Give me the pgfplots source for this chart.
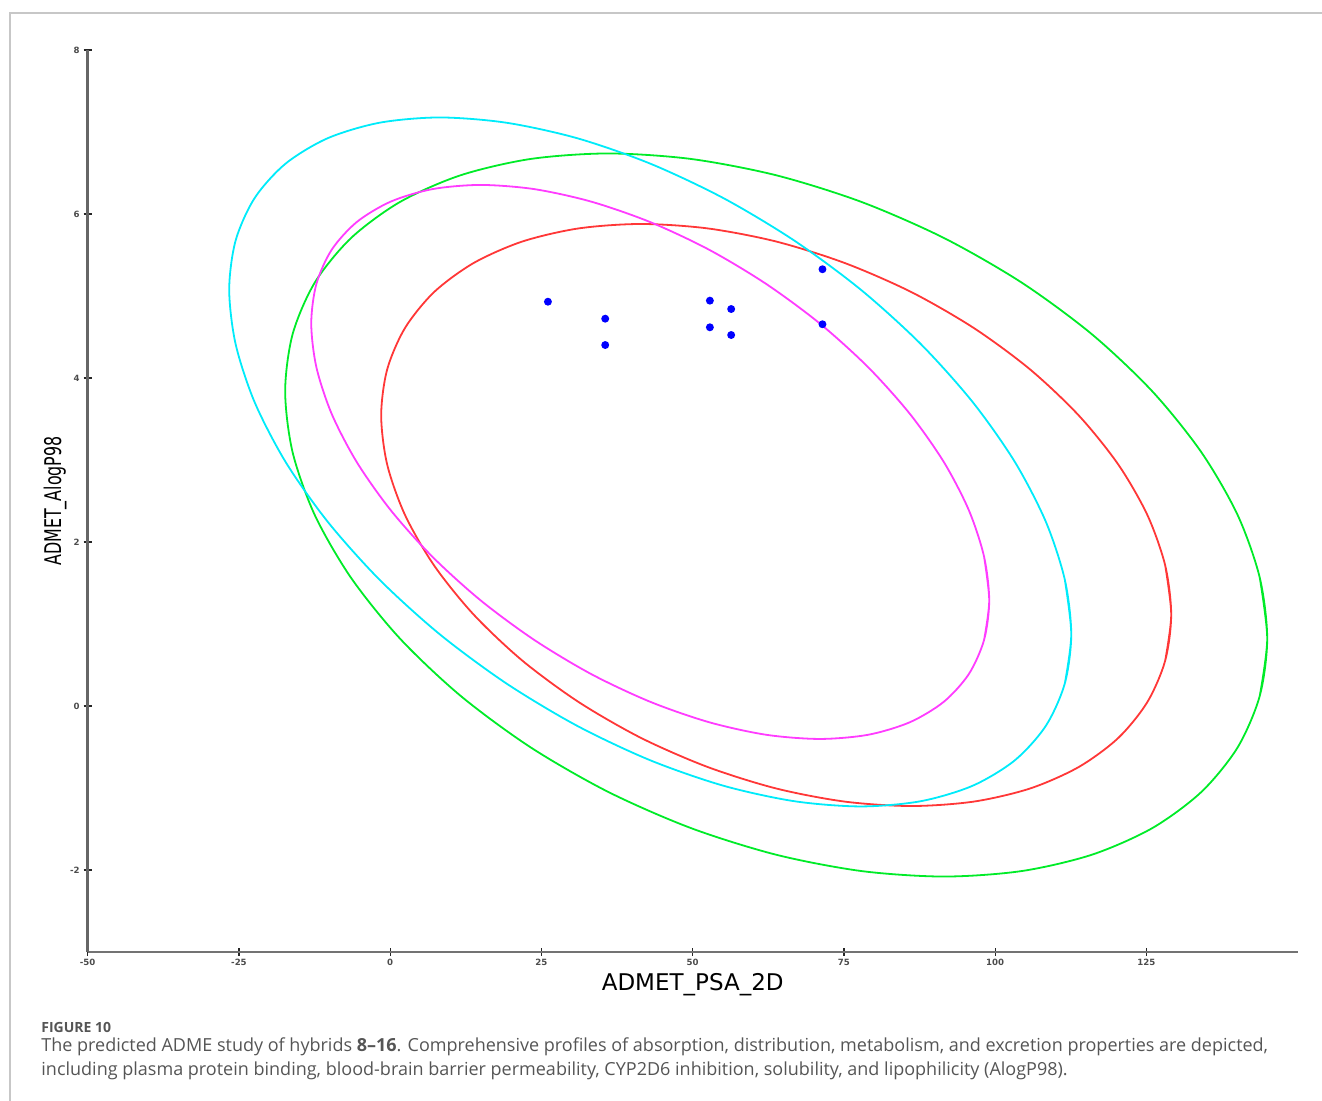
\documentclass[border=0pt]{standalone}
\usepackage{pgfplots}
\pgfplotsset{compat=1.18}
\usepackage{fontspec}
\setmainfont{Open Sans}
\newfontfamily\dvs{DejaVu Sans}
\definecolor{ccyan}{RGB}{0,235,250}
\definecolor{cgreen}{RGB}{0,235,40}
\definecolor{cmag}{RGB}{255,60,255}
\definecolor{cred}{RGB}{255,55,55}
\definecolor{capgray}{RGB}{85,85,85}
\begin{document}
\begin{tikzpicture}
\useasboundingbox (0pt,0pt) rectangle (661pt,550.5pt);
\draw[black!22, line width=0.6pt] (5pt,0pt) -- (5pt,544pt) -- (661pt,544pt);
\begin{axis}[
  at={(43.85pt,74.5pt)}, anchor=south west,
  scale only axis, width=605pt, height=451pt,
  xmin=-50, xmax=150, ymin=-3, ymax=8,
  axis x line*=bottom, axis y line*=left,
  x axis line style={-, black!55, line width=0.8pt},
  y axis line style={-, black!60, line width=1.2pt},
  xtick={-50,-25,0,25,50,75,100,125}, ytick={-2,0,2,4,6,8},
  tick align=center, major tick length=4pt,
  tick style={black!85, line width=0.6pt},
  ticklabel style={font=\dvs\bfseries\fontsize{4.3}{5}\selectfont, text=black!70},
  xticklabel style={yshift=1.8pt},
  yticklabel style={xshift=1.5pt},
  /pgf/number format/assume math mode=true,
  xlabel={\dvs\fontsize{11.5}{13}\selectfont ADMET\_PSA\_2D},
  ylabel={\dvs\fontsize{11.5}{13}\selectfont\scalebox{0.69}[1]{ADMET\_AlogP98}},
  xlabel style={at={(axis description cs:0.5,-0.0365)}, anchor=center},
  ylabel style={at={(axis description cs:-0.027,0.5)}, anchor=center},
  every axis plot/.append style={smooth, tension=0.5, line width=0.9pt},
]
\addplot[cgreen] coordinates {
(143.73,1.564) (144.96,0.821) (143.73,0.124) (140.07,-0.505) (134.08,-1.048) (125.97,-1.489) (115.97,-1.814) (104.38,-2.013) (91.56,-2.080) (77.89,-2.013) (63.80,-1.814) (49.71,-1.489) (36.04,-1.048) (23.22,-0.505) (11.63,0.124) (1.63,0.821) (-6.48,1.564) (-12.47,2.329) (-16.13,3.094) (-17.36,3.837) (-16.13,4.534) (-12.47,5.163) (-6.48,5.706) (1.63,6.147) (11.63,6.472) (23.22,6.671) (36.04,6.738) (49.71,6.671) (63.80,6.472) (77.89,6.147) (91.56,5.706) (104.38,5.163) (115.97,4.534) (125.97,3.837) (134.08,3.094) (140.07,2.329) (143.73,1.564) (144.96,0.821) (143.73,0.124)};
\addplot[cred] coordinates {
(128.10,1.713) (129.09,1.115) (128.10,0.554) (125.15,0.048) (120.34,-0.390) (113.81,-0.744) (105.77,-1.006) (96.45,-1.166) (86.13,-1.220) (75.13,-1.166) (63.80,-1.006) (52.47,-0.744) (41.47,-0.390) (31.15,0.048) (21.83,0.554) (13.79,1.115) (7.26,1.713) (2.45,2.329) (-0.50,2.945) (-1.49,3.543) (-0.50,4.104) (2.45,4.610) (7.26,5.048) (13.79,5.402) (21.83,5.664) (31.15,5.824) (41.47,5.878) (52.47,5.824) (63.80,5.664) (75.13,5.402) (86.13,5.048) (96.45,4.610) (105.77,4.104) (113.81,3.543) (120.34,2.945) (125.15,2.329) (128.10,1.713) (129.09,1.115) (128.10,0.554)};
\addplot[ccyan] coordinates {
(111.51,1.539) (112.57,0.875) (111.51,0.276) (108.37,-0.242) (103.25,-0.662) (96.29,-0.972) (87.71,-1.161) (77.78,-1.225) (66.78,-1.161) (55.06,-0.972) (42.98,-0.662) (30.90,-0.242) (19.18,0.276) (8.18,0.875) (-1.75,1.539) (-10.33,2.247) (-17.29,2.976) (-22.41,3.705) (-25.55,4.413) (-26.61,5.077) (-25.55,5.676) (-22.41,6.194) (-17.29,6.614) (-10.33,6.924) (-1.75,7.113) (8.18,7.177) (19.18,7.113) (30.90,6.924) (42.98,6.614) (55.06,6.194) (66.78,5.676) (77.78,5.077) (87.71,4.413) (96.29,3.705) (103.25,2.976) (108.37,2.247) (111.51,1.539) (112.57,0.875) (111.51,0.276)};
\addplot[cmag] coordinates {
(98.16,1.821) (99.01,1.287) (98.16,0.805) (95.63,0.388) (91.50,0.051) (85.90,-0.198) (79.00,-0.351) (71.00,-0.402) (62.14,-0.351) (52.71,-0.198) (42.98,0.051) (33.25,0.388) (23.82,0.805) (14.96,1.287) (6.96,1.821) (0.06,2.390) (-5.54,2.976) (-9.67,3.562) (-12.20,4.131) (-13.05,4.665) (-12.20,5.147) (-9.67,5.564) (-5.54,5.901) (0.06,6.150) (6.96,6.303) (14.96,6.354) (23.82,6.303) (33.25,6.150) (42.98,5.901) (52.71,5.564) (62.14,5.147) (71.00,4.665) (79.00,4.131) (85.90,3.562) (91.50,2.976) (95.63,2.390) (98.16,1.821) (99.01,1.287) (98.16,0.805)};
\addplot[only marks, mark=*, mark size=1.5pt, blue, mark options={draw=blue, fill=blue}] coordinates {
(26.07,4.930) (35.54,4.723) (35.54,4.402) (52.84,4.943) (56.36,4.841) (52.84,4.618) (56.36,4.524) (71.45,5.326) (71.45,4.655)};
\end{axis}
\node[anchor=west, inner sep=0pt, text=capgray, font=\fontsize{7}{8}\selectfont\bfseries] at (20.5pt,37pt) {FIGURE 10};
\node[anchor=west, inner sep=0pt, text=capgray, font=\fontsize{9}{10.8}\selectfont] at (20.5pt,27pt) {The predicted ADME study of hybrids \textbf{8--16}. Comprehensive profiles of absorption, distribution, metabolism, and excretion properties are depicted,};
\node[anchor=west, inner sep=0pt, text=capgray, font=\fontsize{9}{10.8}\selectfont] at (20.5pt,15pt) {including plasma protein binding, blood-brain barrier permeability, CYP2D6 inhibition, solubility, and lipophilicity (AlogP98).};
\end{tikzpicture}
\end{document}
